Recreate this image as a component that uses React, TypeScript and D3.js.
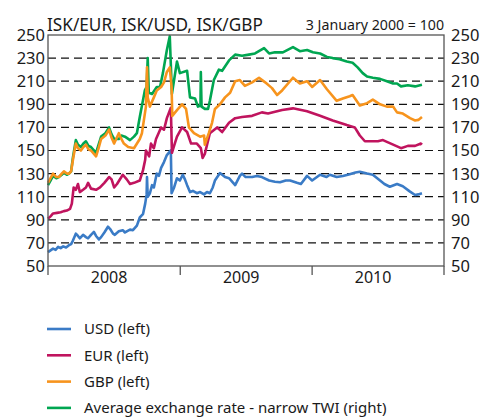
import React from "react";
import * as d3 from "d3";

type Pt = [string, number];

const usd: Pt[] = [
  ["2008-01-01", 62], ["2008-01-08", 63.5], ["2008-01-15", 65], ["2008-01-22", 64], ["2008-01-29", 66.5],
  ["2008-02-05", 65.5], ["2008-02-12", 67], ["2008-02-20", 66], ["2008-02-28", 68], ["2008-03-05", 69],
  ["2008-03-10", 72], ["2008-03-18", 78], ["2008-03-24", 76], ["2008-03-29", 74], ["2008-04-07", 77],
  ["2008-04-15", 75], ["2008-04-21", 74], ["2008-04-29", 77], ["2008-05-07", 79.5], ["2008-05-13", 76],
  ["2008-05-21", 73], ["2008-05-27", 75], ["2008-06-05", 79], ["2008-06-15", 84], ["2008-06-21", 82],
  ["2008-06-29", 78], ["2008-07-04", 77], ["2008-07-15", 80], ["2008-07-26", 81], ["2008-08-01", 79],
  ["2008-08-06", 80], ["2008-08-15", 81.5], ["2008-08-23", 81], ["2008-09-03", 85], ["2008-09-11", 92],
  ["2008-09-17", 94], ["2008-09-20", 95], ["2008-09-26", 104], ["2008-09-30", 112], ["2008-10-01", 127],
  ["2008-10-03", 110], ["2008-10-09", 113], ["2008-10-15", 120], ["2008-10-20", 118], ["2008-10-28", 130],
  ["2008-11-03", 128], ["2008-11-09", 135], ["2008-11-17", 140], ["2008-11-25", 146], ["2008-12-03", 149],
  ["2008-12-06", 150], ["2008-12-08", 113], ["2008-12-15", 118], ["2008-12-23", 126], ["2008-12-31", 124],
  ["2009-01-08", 129], ["2009-01-14", 125], ["2009-01-20", 120], ["2009-01-28", 114], ["2009-02-05", 115],
  ["2009-02-16", 113], ["2009-02-25", 114], ["2009-03-08", 112], ["2009-03-16", 114], ["2009-03-24", 113],
  ["2009-04-01", 118], ["2009-04-07", 124], ["2009-04-21", 130.5], ["2009-05-05", 127], ["2009-05-16", 126],
  ["2009-06-02", 120], ["2009-06-15", 128], ["2009-06-21", 130], ["2009-07-01", 127], ["2009-07-19", 127],
  ["2009-08-01", 128], ["2009-08-15", 127], ["2009-09-04", 124], ["2009-09-20", 123], ["2009-10-04", 122.5],
  ["2009-10-20", 124], ["2009-11-01", 124], ["2009-11-20", 122], ["2009-12-01", 121], ["2009-12-18", 128],
  ["2010-01-01", 124], ["2010-01-23", 129], ["2010-02-10", 127], ["2010-02-19", 129], ["2010-03-10", 127],
  ["2010-03-27", 128], ["2010-04-15", 129.5], ["2010-05-01", 131], ["2010-05-13", 131.6], ["2010-06-02", 130],
  ["2010-06-18", 129], ["2010-07-08", 124], ["2010-07-20", 121], ["2010-08-04", 118.6], ["2010-08-24", 121],
  ["2010-09-09", 119], ["2010-09-29", 114.4], ["2010-10-13", 111.5], ["2010-10-22", 112], ["2010-11-01", 113],
];

const eur: Pt[] = [
  ["2008-01-01", 91], ["2008-01-08", 93], ["2008-01-15", 95.5], ["2008-01-26", 96], ["2008-02-05", 96.5],
  ["2008-02-14", 97.5], ["2008-02-22", 98], ["2008-03-02", 99.5], ["2008-03-07", 104], ["2008-03-12", 118],
  ["2008-03-18", 116], ["2008-03-24", 121], ["2008-03-29", 114], ["2008-04-07", 116], ["2008-04-15", 118],
  ["2008-04-21", 122], ["2008-04-29", 117], ["2008-05-13", 116], ["2008-05-24", 118], ["2008-06-05", 122],
  ["2008-06-18", 127], ["2008-06-25", 125], ["2008-07-02", 118], ["2008-07-10", 121], ["2008-07-26", 129],
  ["2008-08-06", 125], ["2008-08-15", 121], ["2008-08-26", 122], ["2008-09-11", 124], ["2008-09-20", 133],
  ["2008-09-26", 142], ["2008-09-28", 150], ["2008-10-07", 145], ["2008-10-12", 156], ["2008-10-20", 152],
  ["2008-10-26", 160], ["2008-11-09", 170], ["2008-11-17", 168], ["2008-11-25", 178], ["2008-12-06", 187],
  ["2008-12-09", 148], ["2008-12-16", 155], ["2008-12-23", 162], ["2009-01-06", 170], ["2009-01-20", 166],
  ["2009-01-31", 156], ["2009-02-16", 156], ["2009-02-27", 152], ["2009-03-04", 143.5], ["2009-03-10", 147],
  ["2009-03-24", 165], ["2009-04-13", 170], ["2009-04-27", 166], ["2009-05-16", 174], ["2009-06-02", 178],
  ["2009-06-21", 179], ["2009-07-19", 180], ["2009-08-15", 183], ["2009-09-01", 182], ["2009-10-10", 185],
  ["2009-11-09", 186.5], ["2009-12-18", 184], ["2010-01-23", 180], ["2010-02-27", 176], ["2010-04-07", 172],
  ["2010-04-29", 170], ["2010-05-07", 166], ["2010-05-13", 163], ["2010-05-27", 158], ["2010-07-02", 158],
  ["2010-07-16", 159], ["2010-08-07", 156], ["2010-09-04", 152], ["2010-09-23", 154], ["2010-10-13", 154],
  ["2010-10-29", 156], ["2010-11-01", 155],
];

const gbp: Pt[] = [
  ["2008-01-01", 122], ["2008-01-08", 126], ["2008-01-15", 130], ["2008-01-24", 127], ["2008-01-31", 127],
  ["2008-02-08", 130], ["2008-02-14", 132], ["2008-02-22", 130], ["2008-02-28", 130], ["2008-03-05", 132],
  ["2008-03-10", 142], ["2008-03-18", 156], ["2008-03-24", 152], ["2008-04-01", 150], ["2008-04-08", 153],
  ["2008-04-15", 155], ["2008-04-22", 151], ["2008-04-29", 150], ["2008-05-13", 145], ["2008-05-20", 152],
  ["2008-05-27", 160], ["2008-06-08", 163], ["2008-06-18", 168], ["2008-06-25", 161], ["2008-07-02", 156],
  ["2008-07-15", 165], ["2008-07-22", 160], ["2008-07-29", 156], ["2008-08-10", 153], ["2008-08-26", 152],
  ["2008-09-11", 160], ["2008-09-17", 165], ["2008-09-28", 188], ["2008-10-01", 222], ["2008-10-03", 196],
  ["2008-10-09", 188], ["2008-10-20", 196], ["2008-10-28", 202], ["2008-11-09", 205], ["2008-11-17", 209],
  ["2008-11-25", 218], ["2008-12-03", 222], ["2008-12-08", 205], ["2008-12-10", 180], ["2008-12-23", 185],
  ["2009-01-06", 190], ["2009-01-17", 186], ["2009-01-25", 170], ["2009-02-08", 165], ["2009-02-25", 162],
  ["2009-03-08", 163], ["2009-03-10", 155], ["2009-03-21", 165], ["2009-03-30", 174], ["2009-04-07", 186],
  ["2009-04-21", 190], ["2009-05-05", 196], ["2009-05-19", 200], ["2009-06-02", 210], ["2009-06-15", 211],
  ["2009-06-29", 206], ["2009-07-19", 209], ["2009-08-07", 213], ["2009-08-24", 209], ["2009-09-12", 204],
  ["2009-09-26", 198], ["2009-10-10", 202], ["2009-11-09", 213], ["2009-11-28", 208], ["2009-12-18", 210],
  ["2010-01-01", 205], ["2010-01-23", 211], ["2010-02-11", 203], ["2010-03-10", 193], ["2010-03-27", 195],
  ["2010-04-15", 197], ["2010-04-23", 198], ["2010-05-13", 189], ["2010-06-02", 191], ["2010-06-18", 194],
  ["2010-07-08", 190], ["2010-07-27", 188], ["2010-08-13", 188], ["2010-08-24", 183], ["2010-09-09", 182],
  ["2010-09-29", 178], ["2010-10-13", 176], ["2010-10-22", 176.5], ["2010-11-01", 179],
];

const twi: Pt[] = [
  ["2008-01-01", 120], ["2008-01-08", 124], ["2008-01-15", 128], ["2008-01-24", 126], ["2008-01-31", 127],
  ["2008-02-08", 129], ["2008-02-14", 131], ["2008-02-22", 129], ["2008-02-28", 130], ["2008-03-05", 132],
  ["2008-03-10", 144], ["2008-03-18", 159], ["2008-03-24", 155], ["2008-04-01", 153], ["2008-04-08", 156],
  ["2008-04-15", 158], ["2008-04-22", 154], ["2008-04-29", 153], ["2008-05-13", 148], ["2008-05-20", 155],
  ["2008-05-27", 162], ["2008-06-08", 165], ["2008-06-18", 170], ["2008-06-25", 164], ["2008-07-02", 160],
  ["2008-07-15", 160], ["2008-07-22", 163], ["2008-08-01", 162], ["2008-08-15", 159], ["2008-08-26", 162],
  ["2008-09-03", 165], ["2008-09-11", 179], ["2008-09-25", 202], ["2008-09-30", 205], ["2008-10-03", 230],
  ["2008-10-06", 200], ["2008-10-15", 199], ["2008-10-28", 205], ["2008-11-06", 205], ["2008-11-14", 217],
  ["2008-11-25", 237], ["2008-12-03", 249], ["2008-12-09", 199], ["2008-12-23", 227], ["2008-12-31", 217],
  ["2009-01-20", 219], ["2009-01-28", 196], ["2009-02-11", 195], ["2009-02-19", 188], ["2009-02-26", 189],
  ["2009-02-27", 218], ["2009-03-01", 188], ["2009-03-10", 186], ["2009-03-19", 186], ["2009-03-24", 193],
  ["2009-04-04", 211], ["2009-04-18", 220], ["2009-04-27", 219], ["2009-05-16", 228], ["2009-06-02", 233],
  ["2009-06-21", 232], ["2009-07-10", 233], ["2009-07-27", 234], ["2009-08-21", 238.7], ["2009-09-04", 234],
  ["2009-09-20", 235], ["2009-10-12", 235], ["2009-11-09", 239.5], ["2009-11-28", 236], ["2009-12-18", 237],
  ["2010-01-03", 235], ["2010-01-23", 234], ["2010-02-11", 231], ["2010-02-27", 230], ["2010-03-18", 229],
  ["2010-04-07", 227], ["2010-04-23", 226], ["2010-05-07", 222], ["2010-05-21", 217], ["2010-06-02", 214],
  ["2010-06-18", 213], ["2010-07-08", 212], ["2010-07-27", 210], ["2010-08-13", 208], ["2010-08-24", 208],
  ["2010-09-04", 205.5], ["2010-09-23", 206.5], ["2010-10-13", 205.5], ["2010-11-01", 207],
];

const yTicks = [50, 70, 90, 110, 130, 150, 170, 190, 210, 230, 250];
const gridValues = [70, 90, 110, 130, 150, 170, 190, 210, 230];
const yearLabels = ["2008", "2009", "2010"];
const yearBounds = ["2008-01-01", "2009-01-01", "2010-01-01", "2011-01-01"];
const seriesNames = ["USD (left)", "EUR (left)", "GBP (left)", "Average exchange rate - narrow TWI (right)"];
const seriesColors = ["#3a7bc6", "#c0145e", "#f7941d", "#00a651"];

const title = "ISK/EUR, ISK/USD, ISK/GBP";
const subtitle = "3 January 2000 = 100";

const FONT = "'Noto Sans', sans-serif";

export default function App() {
  const parse = d3.timeParse("%Y-%m-%d");
  const left = 48, right = 444, top = 35, bottom = 266;
  const x = d3.scaleTime()
    .domain([parse(yearBounds[0])!, parse(yearBounds[3])!])
    .range([left, right]);
  const y = d3.scaleLinear().domain([50, 250]).range([bottom, top]);
  const line = d3.line<Pt>()
    .x((d) => x(parse(d[0])!))
    .y((d) => y(d[1]));

  const data = [usd, eur, gbp, twi];
  const drawOrder = [3, 0, 1, 2];
  const bounds = yearBounds.map((s) => x(parse(s)!));

  return (
    <svg width={480} height={418} style={{ position: "absolute", left: 0, top: 0, background: "#fff" }}
      fontFamily={FONT}>
      <rect x={0} y={0} width={480} height={418} fill="#fff" />
      <text x={left - 1} y={30.5} fontSize={17.2} fill="#1a1a1a">{title}</text>
      <text x={right} y={29.5} fontSize={14.2} fill="#1a1a1a" textAnchor="end">{subtitle}</text>
      {gridValues.map((v) => (
        <line key={v} x1={left} x2={right} y1={y(v)} y2={y(v)} stroke="#111" strokeWidth={1.2}
          strokeDasharray="8,5" />
      ))}
      {drawOrder.map((i) => (
        <path key={i} d={line(data[i]) || ""} fill="none" stroke={seriesColors[i]} strokeWidth={2.6}
          strokeLinejoin="round" />
      ))}
      <rect x={left} y={top} width={right - left} height={bottom - top} fill="none" stroke="#555" strokeWidth={1.3} />
      {bounds.map((bx, i) => (
        <line key={i} x1={bx} x2={bx} y1={bottom} y2={bottom + 9} stroke="#555" strokeWidth={1.3} />
      ))}
      {yearLabels.map((lab, i) => (
        <text key={lab} x={(bounds[i] + bounds[i + 1]) / 2 - 5} y={283} fontSize={16} fill="#1a1a1a"
          textAnchor="middle">{lab}</text>
      ))}
      {yTicks.map((v) => (
        <g key={v}>
          <text x={45} y={y(v)} dy="0.36em" fontSize={16.5} fill="#1a1a1a" textAnchor="end">{v}</text>
          <text x={451} y={y(v)} dy="0.36em" fontSize={16.5} fill="#1a1a1a" textAnchor="start">{v}</text>
        </g>
      ))}
      {seriesNames.map((name, i) => {
        const ly = 329 + i * 26.3;
        return (
          <g key={name}>
            <line x1={47} x2={71} y1={ly} y2={ly} stroke={seriesColors[i]} strokeWidth={2.6} />
            <text x={84} y={ly} dy="0.36em" fontSize={15} fill="#1a1a1a">{name}</text>
          </g>
        );
      })}
    </svg>
  );
}
